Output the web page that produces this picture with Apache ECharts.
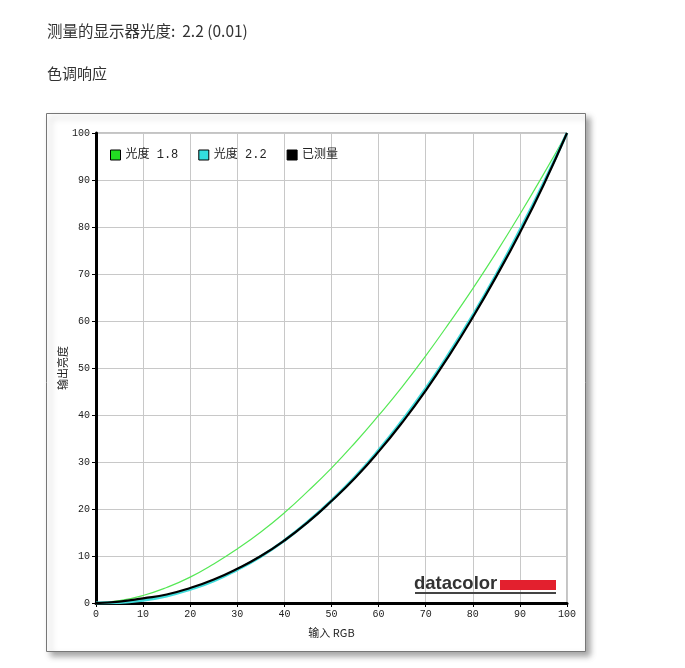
<!DOCTYPE html>
<html>
<head>
<meta charset="utf-8">
<script src="https://cdn.jsdelivr.net/npm/echarts@6/dist/echarts.min.js"></script>
<style>
  html, body { margin: 0; padding: 0; background: #fff; }
  #chart { width: 685px; height: 668px; }
</style>
</head>
<body>
<div id="chart"></div>
<script>
// input RGB (%)
var inputs = [0, 5, 10, 15, 20, 25, 30, 35, 40, 45, 50, 55, 60, 65, 70, 75, 80, 85, 90, 95, 100];
// output luminance (%)
var gamma18 = [0, 0.5, 1.6, 3.3, 5.5, 8.3, 11.5, 15.1, 19.2, 23.8, 28.7, 34.1, 39.9, 46.0, 52.6, 59.6, 66.9, 74.6, 82.7, 91.2, 100];
var gamma22 = [0, 0.1, 0.6, 1.5, 2.9, 4.7, 7.1, 9.9, 13.3, 17.3, 21.8, 26.8, 32.5, 38.8, 45.6, 53.1, 61.2, 69.9, 79.3, 89.3, 100];
var measured = [0, 0.3, 1.0, 1.8, 3.2, 5.0, 7.3, 10.0, 13.3, 17.2, 21.7, 26.6, 32.2, 38.4, 45.2, 52.7, 60.8, 69.5, 78.8, 88.9, 100];
var seriesNames = ['光度 1.8', '光度 2.2', '已测量'];

function pairs(ys) {
    return inputs.map(function (x, i) { return [x, ys[i]]; });
}

var monoFont = '"Liberation Mono", "DejaVu Sans Mono", monospace';
var mixFont = '"Liberation Mono", "Noto Sans CJK SC", monospace';
var cjkFont = '"Noto Sans CJK SC", "Liberation Mono", sans-serif';

var myChart = echarts.init(document.getElementById('chart'));
var option = {
    backgroundColor: '#fff',
    animation: false,
    graphic: [
        {
            type: 'text', left: 47, top: 23, silent: true,
            style: { text: '测量的显示器光度:  2.2 (0.01)', fill: '#333', font: '15.5px "Noto Sans CJK SC", "Open Sans", sans-serif' }
        },
        {
            type: 'text', left: 47, top: 66, silent: true,
            style: { text: '色调响应', fill: '#333', font: '15px "Noto Sans CJK SC", sans-serif' }
        },
        {
            type: 'rect', z: -10, silent: true,
            shape: { x: 46.5, y: 113.5, width: 539, height: 538 },
            style: {
                fill: '#fff', stroke: '#777', lineWidth: 1,
                shadowBlur: 6, shadowOffsetX: 4, shadowOffsetY: 4, shadowColor: 'rgba(0,0,0,0.35)'
            }
        },
        {
            type: 'text', left: 414, top: 574, z: 10, silent: true,
            style: { text: 'datacolor', fill: '#333', font: 'bold 18.5px "Liberation Sans", "Noto Sans", sans-serif' }
        },
        {
            type: 'rect', z: 10, silent: true,
            shape: { x: 500, y: 580, width: 56, height: 10 },
            style: { fill: '#e3202e' }
        },
        {
            type: 'rect', z: 10, silent: true,
            shape: { x: 415, y: 592, width: 141, height: 2 },
            style: { fill: '#444' }
        }
    ],
    legend: {
        left: 105,
        top: 144,
        itemWidth: 10,
        itemHeight: 10,
        itemGap: 20,
        icon: 'rect',
        textStyle: { fontFamily: mixFont, fontSize: 12, color: '#222' },
        data: [
            { name: seriesNames[0], itemStyle: { borderColor: '#000', borderWidth: 1 } },
            { name: seriesNames[1], itemStyle: { borderColor: '#000', borderWidth: 1 } },
            { name: seriesNames[2], itemStyle: { borderColor: '#000', borderWidth: 1 } }
        ]
    },
    grid: {
        left: 96,
        top: 133,
        width: 471,
        height: 470,
        show: true,
        borderColor: '#888',
        borderWidth: 1,
        backgroundColor: 'transparent'
    },
    xAxis: {
        type: 'value',
        min: 0,
        max: 100,
        interval: 10,
        name: '输入 RGB',
        nameLocation: 'middle',
        nameGap: 24,
        nameMoveOverlap: false,
        nameTextStyle: { fontFamily: cjkFont, fontSize: 11, color: '#222' },
        axisLine: { show: true, onZero: false, lineStyle: { color: '#000', width: 3 } },
        axisTick: { show: true, length: 4, lineStyle: { color: '#000', width: 1 } },
        axisLabel: { fontFamily: monoFont, fontSize: 10, color: '#222', margin: 6 },
        splitLine: { show: true, lineStyle: { color: '#c8c8c8', width: 1 } }
    },
    yAxis: {
        type: 'value',
        min: 0,
        max: 100,
        interval: 10,
        name: '输出亮度',
        nameLocation: 'middle',
        nameGap: 28,
        nameMoveOverlap: false,
        nameRotate: 90,
        nameTextStyle: { fontFamily: cjkFont, fontSize: 11, color: '#222' },
        axisLine: { show: true, onZero: false, lineStyle: { color: '#000', width: 3 } },
        axisTick: { show: true, length: 4, lineStyle: { color: '#000', width: 1 } },
        axisLabel: { fontFamily: monoFont, fontSize: 10, color: '#222', margin: 6 },
        splitLine: { show: true, lineStyle: { color: '#c8c8c8', width: 1 } }
    },
    series: [
        {
            name: seriesNames[0],
            type: 'line',
            smooth: true,
            showSymbol: false,
            data: pairs(gamma18),
            itemStyle: { color: '#22dd22' },
            lineStyle: { color: '#55e855', width: 1.2 },
            z: 2
        },
        {
            name: seriesNames[1],
            type: 'line',
            smooth: true,
            showSymbol: false,
            data: pairs(gamma22),
            itemStyle: { color: '#33dddd' },
            lineStyle: { color: '#40dcdc', width: 3 },
            z: 3
        },
        {
            name: seriesNames[2],
            type: 'line',
            smooth: true,
            showSymbol: false,
            data: pairs(measured),
            itemStyle: { color: '#000' },
            lineStyle: { color: '#000', width: 2.2 },
            z: 4
        }
    ]
};
myChart.setOption(option);
</script>
</body>
</html>
